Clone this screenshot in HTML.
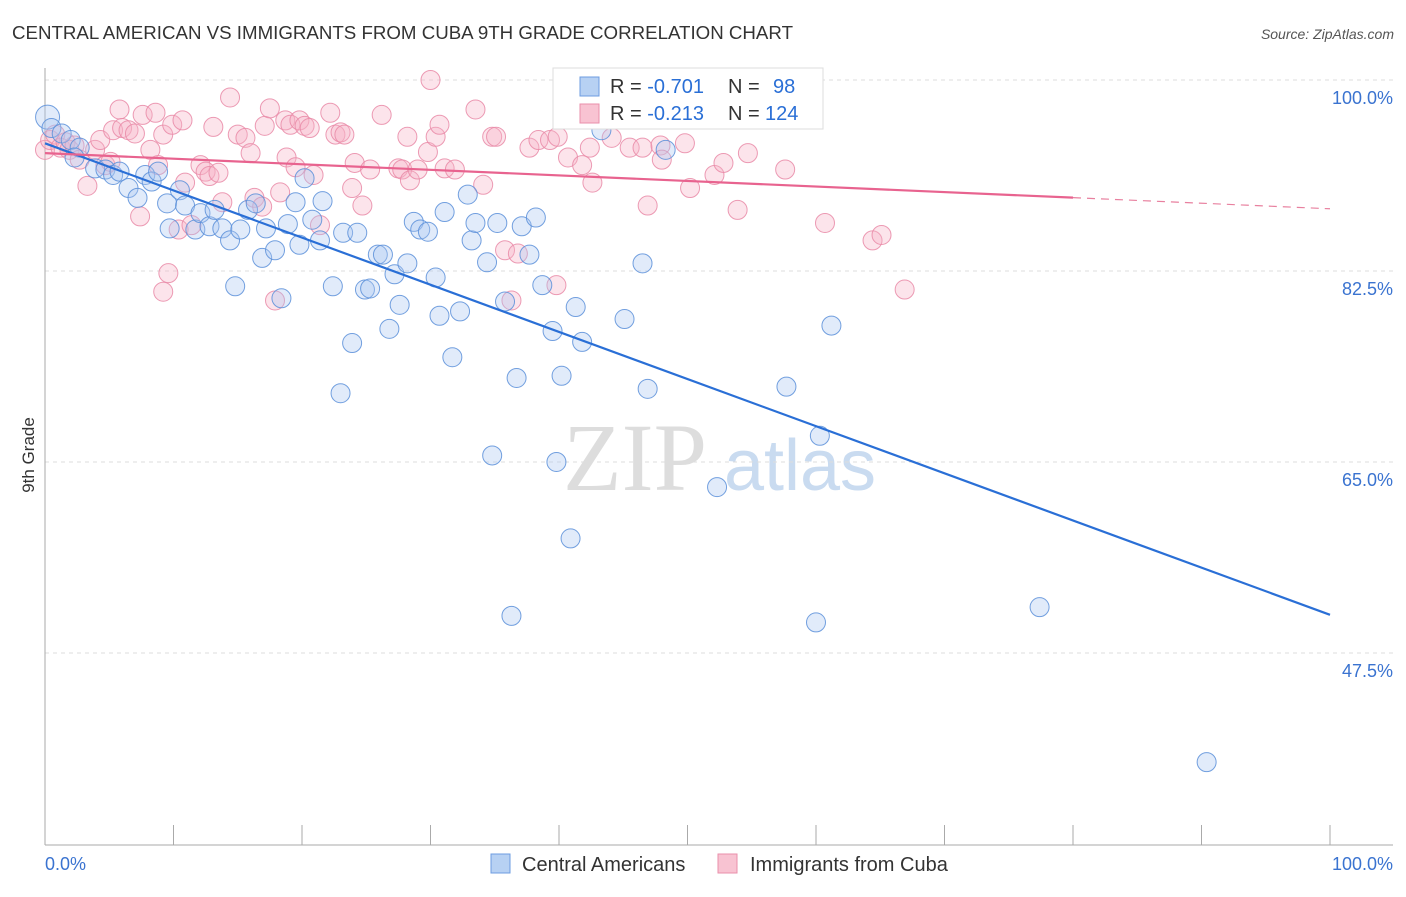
<!DOCTYPE html>
<html><head><meta charset="utf-8"><style>
body{margin:0;background:#fff;font-family:"Liberation Sans",sans-serif}
</style></head><body>
<svg id="chart" width="1406" height="892" xmlns="http://www.w3.org/2000/svg" font-family="Liberation Sans, sans-serif">
<text x="12" y="39" font-size="18" fill="#333" textLength="781" lengthAdjust="spacingAndGlyphs">CENTRAL AMERICAN VS IMMIGRANTS FROM CUBA 9TH GRADE CORRELATION CHART</text>
<text x="1394" y="39" font-size="14" fill="#555" font-style="italic" text-anchor="end">Source: ZipAtlas.com</text>
<g font-size="96" text-anchor="middle">
<text x="635" y="490" fill="#ddd" font-family="Liberation Serif, serif">ZIP</text>
<text x="800" y="490" fill="#c9dbf0" font-size="72">atlas</text>
</g>
<g id="grid"></g>
<g id="axes"></g>
<g id="pts"></g>
<g id="lines"></g>
<text transform="translate(34,455) rotate(-90)" font-size="17" fill="#333" text-anchor="middle">9th Grade</text>
<g>
<rect x="553" y="68" width="270" height="61" fill="#fff" stroke="#ddd"/>
<rect x="580" y="77" width="19" height="19" fill="#b7d1f3" stroke="#6d9ce0"/>
<rect x="580" y="104" width="19" height="19" fill="#f8c3d2" stroke="#ea8fab"/>
<text x="610" y="93" font-size="20" fill="#333">R = <tspan fill="#2a6fd6">-0.701</tspan><tspan x="728">N = </tspan><tspan x="773" fill="#2a6fd6">98</tspan></text>
<text x="610" y="120" font-size="20" fill="#333">R = <tspan fill="#2a6fd6">-0.213</tspan><tspan x="728">N = </tspan><tspan x="765" fill="#2a6fd6">124</tspan></text>
</g>
<g>
<rect x="491" y="854" width="19" height="19" fill="#b7d1f3" stroke="#6d9ce0"/>
<text x="522" y="871" font-size="20" fill="#333">Central Americans</text>
<rect x="718" y="854" width="19" height="19" fill="#f8c3d2" stroke="#ea8fab"/>
<text x="750" y="871" font-size="20" fill="#333">Immigrants from Cuba</text>
</g>
</svg>
<script>
const yTicks=[100,82.5,65,47.5];
const yTickLabels=["100.0%","82.5%","65.0%","47.5%"];
const xTicks=[0,10,20,30,40,50,60,70,80,90,100];
const blueX=[0.2,0.5,1.3,2.0,2.7,2.3,3.9,4.7,5.3,5.8,6.5,7.2,7.8,8.3,8.8,9.7,9.5,10.5,10.9,11.7,12.1,12.8,13.2,13.8,14.4,14.8,15.2,15.8,16.4,16.9,17.2,17.9,18.4,18.9,19.5,19.8,20.2,20.8,21.4,21.6,22.4,23.0,23.2,23.9,24.3,24.9,25.3,25.9,26.3,26.8,27.2,27.6,28.2,28.7,29.2,29.8,30.4,30.7,31.1,31.7,32.3,32.9,33.2,33.5,34.4,34.8,35.2,35.8,36.3,36.7,37.1,37.7,38.2,38.7,39.5,39.8,40.2,40.9,41.3,41.8,43.3,45.1,46.5,46.9,48.3,52.3,57.7,60.0,60.3,61.2,77.4,90.4];
const blueY=[96.6,95.6,95.1,94.5,93.8,92.9,91.9,91.8,91.3,91.6,90.1,89.2,91.3,90.7,91.6,86.4,88.7,89.9,88.5,86.3,87.8,86.6,88.1,86.4,85.3,81.1,86.3,88.1,88.7,83.7,86.4,84.4,80.0,86.8,88.8,84.9,91.0,87.2,85.3,88.9,81.1,71.3,86.0,75.9,86.0,80.8,80.9,84.0,84.0,77.2,82.2,79.4,83.2,87.0,86.3,86.1,81.9,78.4,87.9,74.6,78.8,89.5,85.3,86.9,83.3,65.6,86.9,79.7,50.9,72.7,86.6,84.0,87.4,81.2,77.0,65.0,72.9,58.0,79.2,76.0,95.4,78.1,83.2,71.7,93.6,62.7,71.9,50.3,67.4,77.5,51.7,37.5];
const pinkX=[0.0,0.4,0.8,1.2,1.6,1.9,2.3,2.7,3.3,3.9,4.3,4.7,5.1,5.3,5.8,6.0,6.5,7.0,7.4,7.6,8.2,8.6,8.8,9.2,9.6,9.2,9.9,10.4,10.7,10.9,11.4,12.1,12.5,12.8,13.1,13.5,13.8,14.4,15.0,15.6,16.0,16.3,16.9,17.1,17.5,17.9,18.3,18.7,18.8,19.1,19.5,19.8,20.2,20.6,20.9,21.4,22.2,22.6,23.0,23.3,23.9,24.1,24.7,25.3,26.2,27.5,27.8,28.2,28.4,29.0,29.8,30.0,30.4,30.7,31.1,31.9,33.5,34.1,34.8,35.1,35.8,36.3,36.8,37.7,38.4,39.3,39.8,39.9,40.7,41.8,42.4,42.6,44.1,45.5,46.5,46.9,47.9,48.0,49.8,50.2,52.1,52.8,53.9,54.7,57.6,60.7,64.4,65.1,66.9];
const pinkY=[93.6,94.5,95.0,93.8,94.3,93.6,94.0,92.7,90.3,93.6,94.5,92.2,92.5,95.4,97.3,95.6,95.4,95.1,87.5,96.8,93.6,97.0,92.2,95.0,82.3,80.6,95.9,86.3,96.3,90.6,86.7,92.2,91.6,91.2,95.7,91.5,88.8,98.4,95.0,94.7,93.3,89.2,88.4,95.8,97.4,79.8,89.7,96.3,92.9,95.9,92.0,96.3,95.8,95.6,91.3,86.7,97.0,95.0,95.2,95.0,90.1,92.4,88.5,91.8,96.8,91.9,91.8,94.8,90.8,91.8,93.4,100.0,94.8,95.9,91.9,91.8,97.3,90.4,94.8,94.8,84.4,79.8,84.1,93.8,94.5,94.5,81.2,94.8,92.9,92.2,93.8,90.6,94.7,93.8,93.8,88.5,94.0,92.7,94.2,90.1,91.3,92.4,88.1,93.3,91.8,86.9,85.3,85.8,80.8];
const blueTrend=[94.2,51.0];
const pinkTrend=[93.3,88.2];
const NS="http://www.w3.org/2000/svg";
const X0=45,X1=1330,Y100=80,PXPER=10.914;
function sx(v){return X0+(X1-X0)*v/100;}
function sy(v){return Y100+(100-v)*PXPER;}
function mk(tag,attrs,parent){const e=document.createElementNS(NS,tag);for(const k in attrs)e.setAttribute(k,attrs[k]);parent.appendChild(e);return e;}
const grid=document.getElementById('grid'),axes=document.getElementById('axes'),pts=document.getElementById('pts'),lines=document.getElementById('lines');
yTicks.forEach((t,i)=>{
  const l=mk('line',{x1:45,x2:1393,y1:sy(t),y2:sy(t),stroke:'#ddd','stroke-dasharray':'4,4'},grid);
  
  
  const tx=mk('text',{x:1393,y:sy(t)+24,'font-size':18,fill:'#3a73d0','text-anchor':'end'},axes);
  tx.textContent=yTickLabels[i];
  
  
});
const ya=mk('line',{x1:45,x2:45,y1:68,y2:845,stroke:'#aaa'},axes);


const xa=mk('line',{x1:45,x2:1393,y1:845,y2:845,stroke:'#aaa'},axes);


xTicks.forEach(t=>{
  const l=mk('line',{x1:sx(t),x2:sx(t),y1:825,y2:845,stroke:'#aaa'},axes);
  
  
});
const xl0=mk('text',{x:45,y:870,'font-size':18,fill:'#3a73d0'},axes);xl0.textContent='0.0%';


const xl1=mk('text',{x:1393,y:870,'font-size':18,fill:'#3a73d0','text-anchor':'end'},axes);xl1.textContent='100.0%';


function drawPts(xs,ys,fill,stroke,name){
  xs.forEach((x,i)=>{
    const c=mk('circle',{cx:sx(x),cy:sy(ys[i]),r:i===0&&name==='central-american-point'?12:9.5,fill:fill,'fill-opacity':0.35,stroke:stroke,'stroke-opacity':0.85,'stroke-width':1},pts);
    
    
  });
}
drawPts(pinkX,pinkY,'#f6b3c6','#e98aa7','cuba-immigrant-point');
drawPts(blueX,blueY,'#a8c7f0','#5b8fd9','central-american-point');
const bl=mk('line',{x1:sx(0),y1:sy(blueTrend[0]),x2:sx(100),y2:sy(blueTrend[1]),stroke:'#2a6fd6','stroke-width':2.2},lines);


const pm=pinkTrend[0]+(pinkTrend[1]-pinkTrend[0])*0.8;
const pl=mk('line',{x1:sx(0),y1:sy(pinkTrend[0]),x2:sx(80),y2:sy(pm),stroke:'#e8638f','stroke-width':2.2},lines);


const pd=mk('line',{x1:sx(80),y1:sy(pm),x2:sx(100),y2:sy(pinkTrend[1]),stroke:'#e8809f','stroke-width':1.2,'stroke-dasharray':'8,6'},lines);


</script>
</body></html>
